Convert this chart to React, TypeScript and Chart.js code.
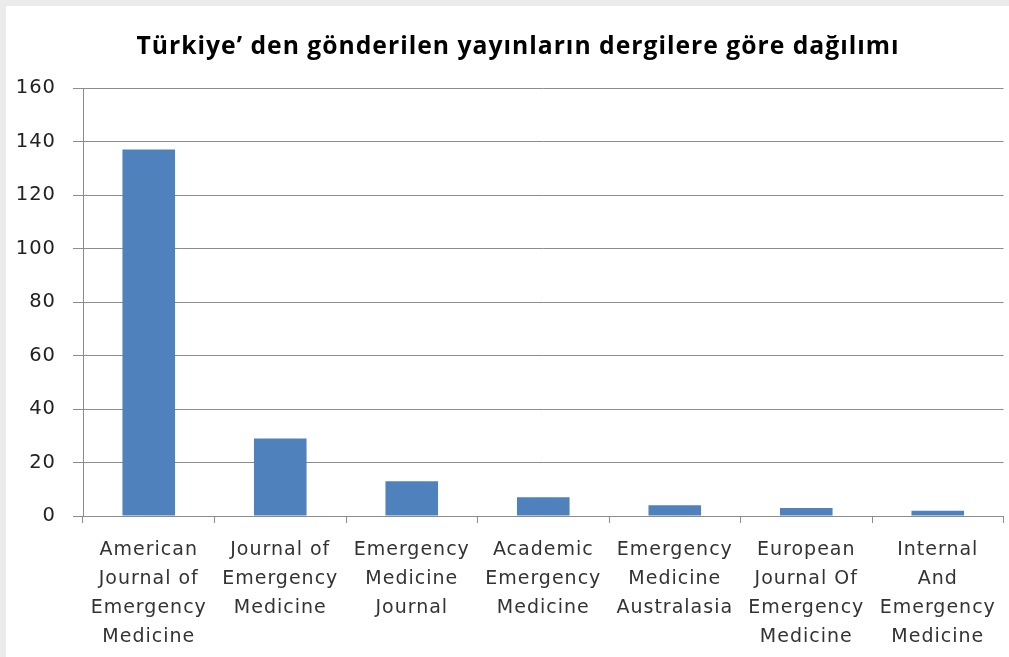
import React, { useEffect, useRef } from "react";
import { Chart, registerables } from "chart.js";

Chart.register(...registerables);

const categories: string[][] = [
  ["American", "Journal of", "Emergency", "Medicine"],
  ["Journal of", "Emergency", "Medicine"],
  ["Emergency", "Medicine", "Journal"],
  ["Academic", "Emergency", "Medicine"],
  ["Emergency", "Medicine", "Australasia"],
  ["European", "Journal Of", "Emergency", "Medicine"],
  ["Internal", "And", "Emergency", "Medicine"],
];
const values: number[] = [137, 29, 13, 7, 4, 3, 2];
const titleText = "Türkiye’ den gönderilen yayınların dergilere göre dağılımı";
const yMin = 0;
const yMax = 160;
const yStep = 20;

const spacingPlugin = {
  id: "letterSpacing",
  beforeUpdate(chart: any) {
    chart.ctx.letterSpacing = "1px";
  },
  beforeLayout(chart: any) {
    chart.ctx.letterSpacing = "1px";
  },
  beforeDraw(chart: any) {
    chart.ctx.letterSpacing = "1px";
  },
};

const titlePlugin = {
  id: "offsetTitle",
  afterDraw(chart: any) {
    const c = chart.ctx;
    c.save();
    c.letterSpacing = "1px";
    c.font = "bold 24.7px 'Open Sans'";
    c.fillStyle = "#000";
    c.textAlign = "center";
    c.textBaseline = "middle";
    c.fillText(titleText, 512, 41);
    c.restore();
  },
};

export default function App() {
  const ref = useRef<HTMLCanvasElement>(null);
  useEffect(() => {
    document.body.style.margin = "0";
    const ctx = ref.current!;
    const chart = new Chart(ctx, {
      type: "bar",
      plugins: [spacingPlugin, titlePlugin],
      data: {
        labels: categories,
        datasets: [
          {
            data: values,
            backgroundColor: "#4F81BD",
            borderWidth: 0,
            barPercentage: 0.4,
            categoryPercentage: 1,
          },
        ],
      },
      options: {
        animation: false,
        responsive: false,
        maintainAspectRatio: false,
        layout: { padding: { left: 0, right: 2, top: 82, bottom: 0 } },
        plugins: {
          legend: { display: false },
          tooltip: { enabled: false },
          title: { display: false },
        },
        scales: {
          x: {
            afterFit: (s: any) => {
              s.height = 141;
            },
            grid: {
              offset: true,
              drawOnChartArea: false,
              drawTicks: true,
              tickLength: 7,
              color: "#8c8c8c",
            },
            border: { color: "#8c8c8c", width: 1 },
            ticks: {
              color: "#333",
              font: { family: "'DejaVu Sans'", size: 19, lineHeight: 1.52 },
              padding: 13,
              maxRotation: 0,
              autoSkip: false,
            },
          },
          y: {
            min: yMin,
            max: yMax,
            afterFit: (s: any) => {
              s.width = 77;
            },
            grid: { color: "#8c8c8c", tickLength: 10 },
            border: { color: "#8c8c8c", width: 1 },
            ticks: {
              stepSize: yStep,
              color: "#222",
              padding: 17,
              font: { family: "'DejaVu Sans'", size: 19.5 },
            },
          },
        },
      },
    });
    return () => chart.destroy();
  }, []);
  return (
    <div style={{ position: "relative", width: 1009, height: 657, background: "#ebebeb", overflow: "hidden" }}>
      <div style={{ position: "absolute", left: 6, top: 6, width: 1003, height: 651, background: "#fff" }}>
        <canvas ref={ref} width={1003} height={651} style={{ display: "block" }} />
      </div>
    </div>
  );
}
